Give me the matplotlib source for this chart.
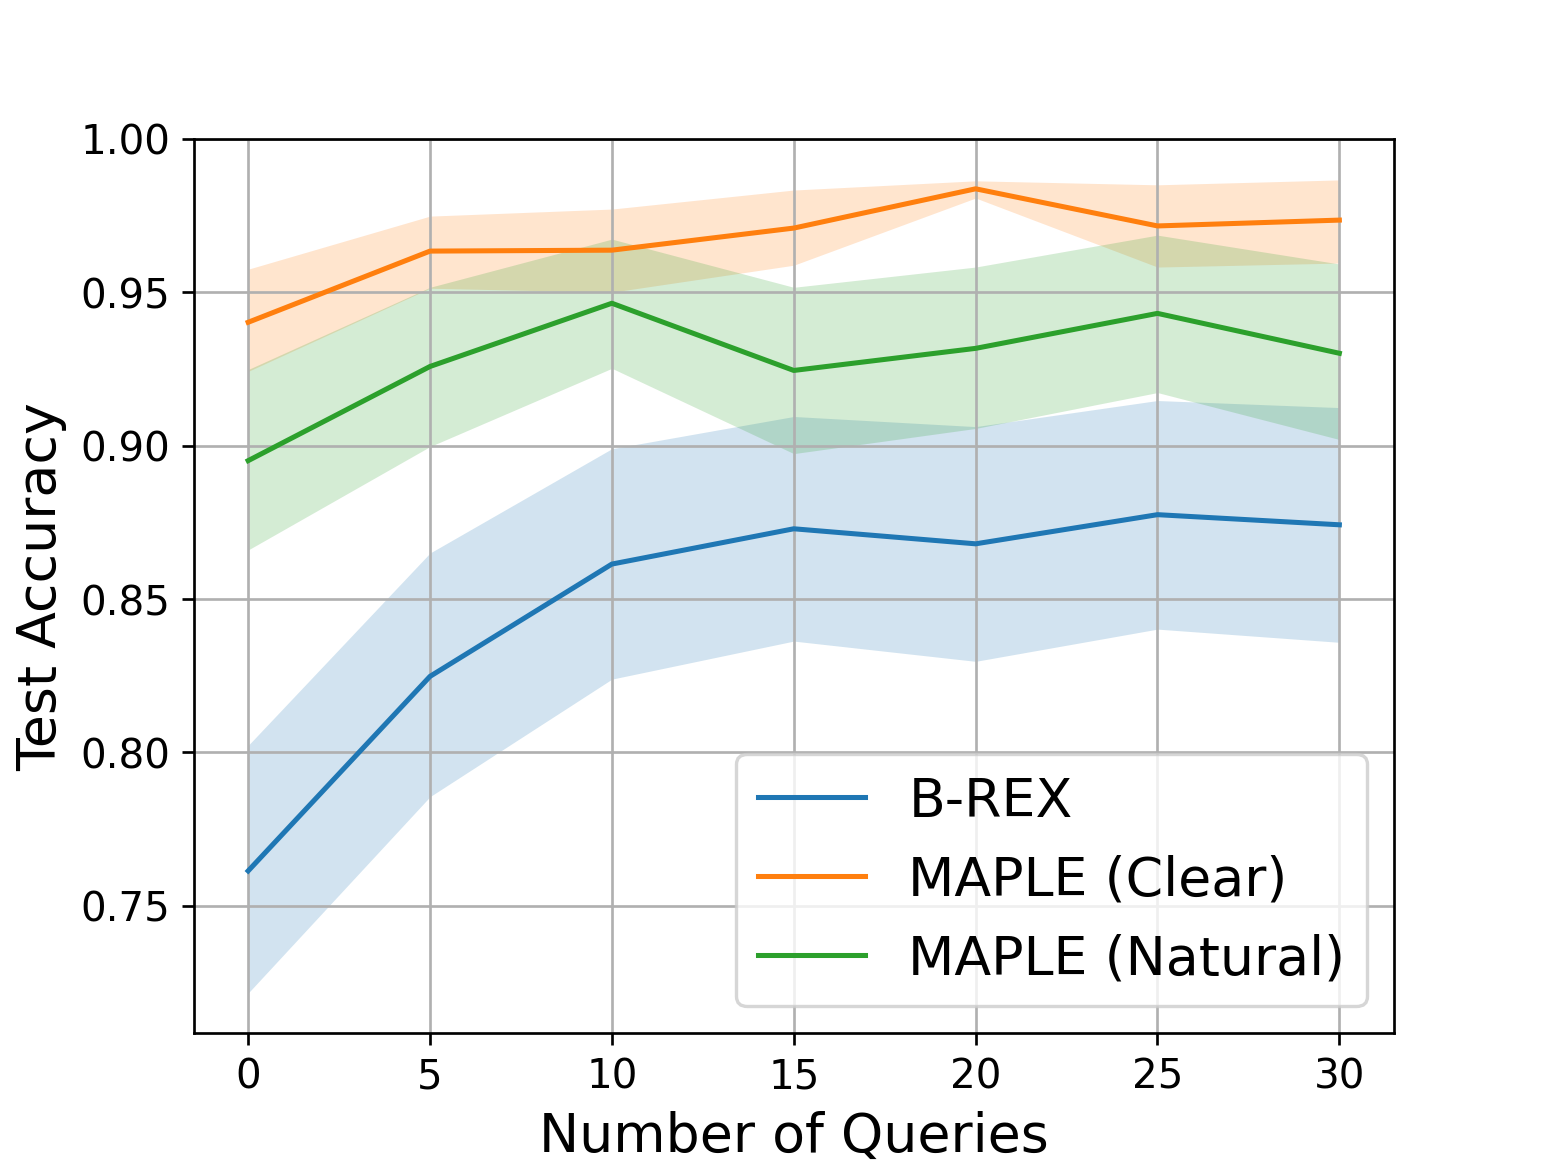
import numpy as np
import matplotlib
matplotlib.use('Agg')
import matplotlib.pyplot as plt

queries = [0, 5, 10, 15, 20, 25, 30]

brex_mean = [0.7614, 0.8248, 0.8614, 0.8729, 0.8680, 0.8775, 0.8742]
brex_upper = [0.8023, 0.8650, 0.8990, 0.9095, 0.9062, 0.9147, 0.9124]
brex_lower = [0.7216, 0.7856, 0.8239, 0.8363, 0.8297, 0.8402, 0.8359]

clear_mean = [0.9402, 0.9634, 0.9637, 0.9709, 0.9837, 0.9716, 0.9735]
clear_upper = [0.9575, 0.9748, 0.9771, 0.9833, 0.9863, 0.9850, 0.9866]
clear_lower = [0.9242, 0.9513, 0.9500, 0.9588, 0.9807, 0.9582, 0.9595]

natural_mean = [0.8951, 0.9258, 0.9464, 0.9245, 0.9317, 0.9431, 0.9301]
natural_upper = [0.9248, 0.9516, 0.9673, 0.9516, 0.9582, 0.9686, 0.9592]
natural_lower = [0.8660, 0.8997, 0.9252, 0.8974, 0.9056, 0.9173, 0.9020]

fig = plt.figure(figsize=(6.4, 4.8), dpi=242)
ax = fig.add_subplot(111)

series = [("B-REX", brex_mean, brex_lower, brex_upper),
          ("MAPLE (Clear)", clear_mean, clear_lower, clear_upper),
          ("MAPLE (Natural)", natural_mean, natural_lower, natural_upper)]

for name, m, lo, hi in series:
    line, = ax.plot(queries, m, label=name)
    ax.fill_between(queries, lo, hi, color=line.get_color(), alpha=0.2, linewidth=0)

ax.set_ylim(0.7085, 1.0)
ax.set_xlabel('Number of Queries', fontsize=16)
ax.set_ylabel('Test Accuracy', fontsize=16)
ax.tick_params(labelsize=12)
ax.grid()
ax.legend(loc='lower right', fontsize=16)

fig.savefig('out.png', dpi=242)
